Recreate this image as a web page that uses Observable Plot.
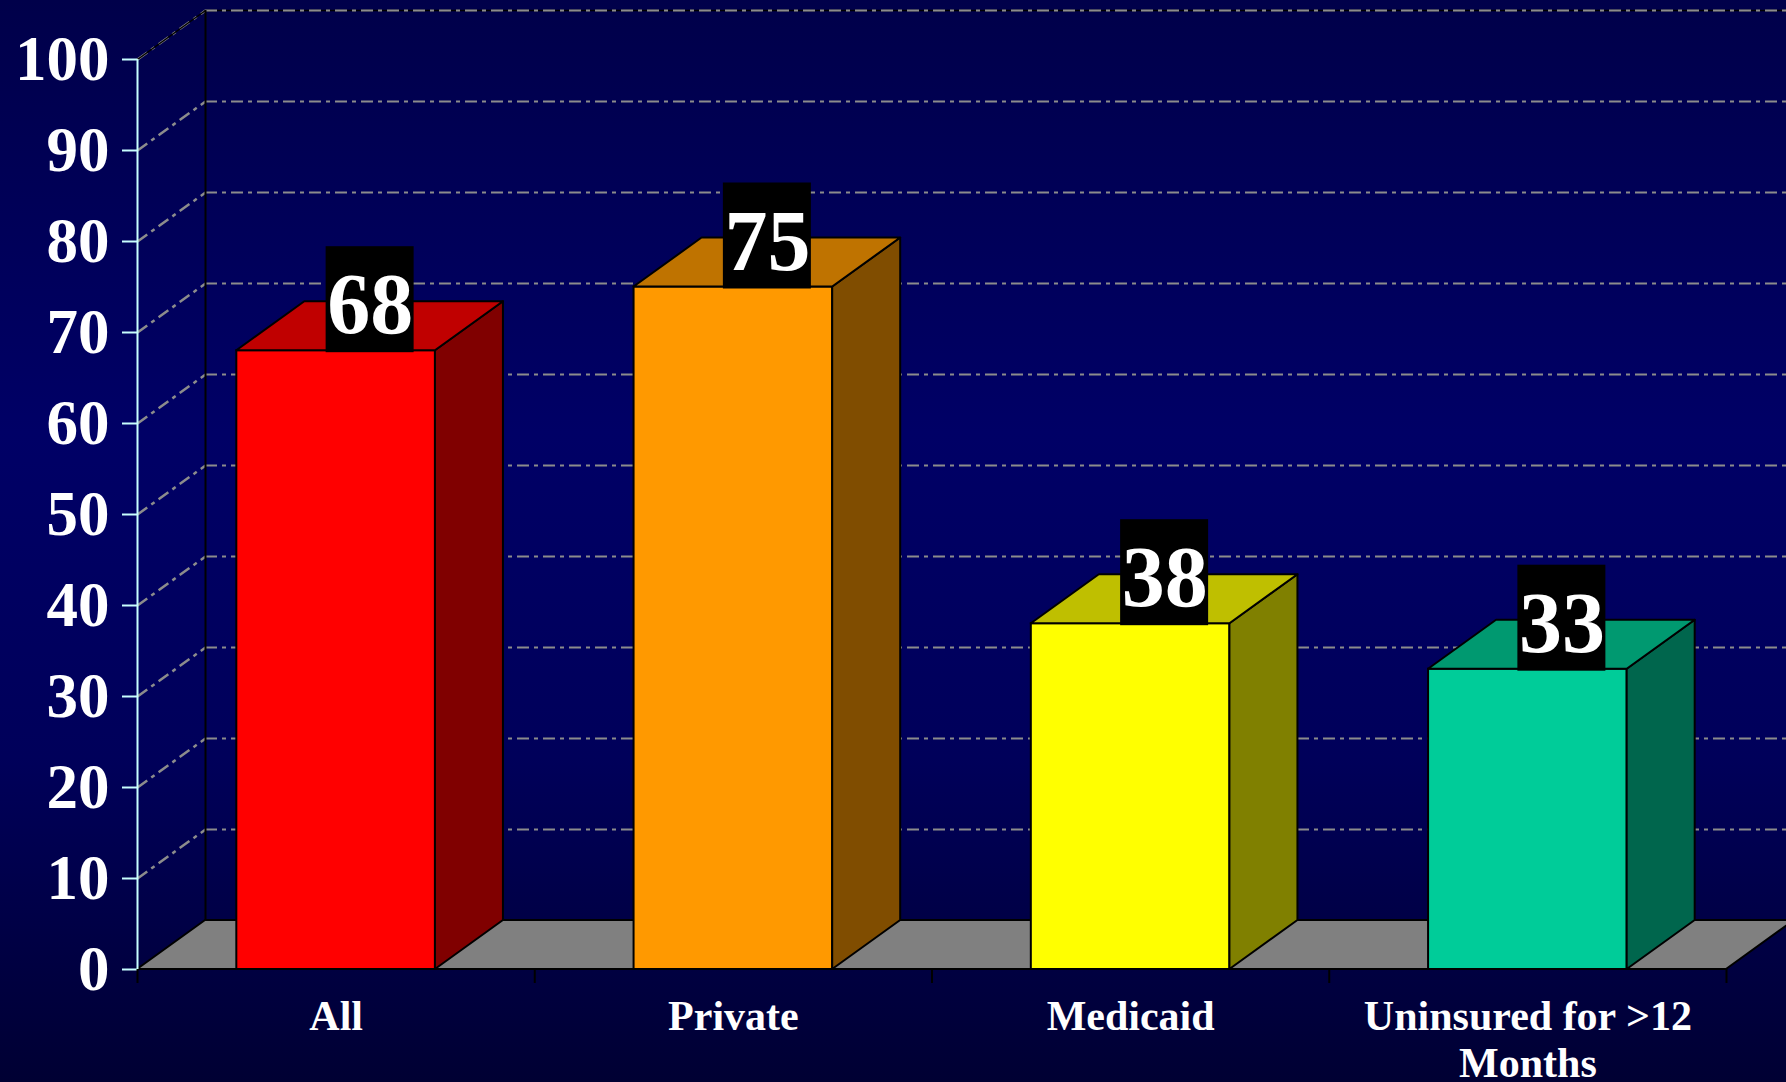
<!DOCTYPE html>
<html>
<head>
<meta charset="utf-8">
<script src="https://cdn.jsdelivr.net/npm/d3@7"></script>
<script src="https://cdn.jsdelivr.net/npm/@observablehq/plot@0.6"></script>
<style>
  html, body { margin: 0; padding: 0; overflow: hidden; background: #000040; }
  #chart svg { display: block; }
</style>
</head>
<body>
<div id="chart"></div>
<script>
// ---- data ----
const categories = ["All", "Private", "Medicaid", "Uninsured for >12\nMonths"];
const values = [68, 75, 38, 33];
const frontColors = ["#ff0000", "#ff9900", "#ffff00", "#00cc99"];
const topColors = ["#c00000", "#bf7300", "#bfbf00", "#009970"];
const sideColors = ["#800000", "#804d00", "#808000", "#00664d"];
const yTicks = [0, 10, 20, 30, 40, 50, 60, 70, 80, 90, 100];

// ---- layout ----
const W = 1786, H = 1082;
const mL = 137, mR = 60, mT = 59, mB = 113;
const depthPx = {x: 68, y: 49};
const kx = categories.length / (W - mL - mR);   // x units per px
const ky = 100 / (H - mT - mB);                 // y units per px
const dX = depthPx.x * kx, dY = depthPx.y * ky;
const n = categories.length;

const bars = values.map((v, i) => ({i, v, l: i + 0.25, r: i + 0.75, c: i + 0.5}));
const sides = bars.flatMap(b => [
  {i: b.i, x: b.r, y1: 0, y2: b.v},
  {i: b.i, x: b.r + dX, y1: dY, y2: b.v + dY}
]);
const tops = bars.flatMap(b => [
  {i: b.i, y: b.v, x1: b.l, x2: b.r},
  {i: b.i, y: b.v + dY, x1: b.l + dX, x2: b.r + dX}
]);
const floor = [{y: 0, x1: 0, x2: n}, {y: dY, x1: dX, x2: n + dX}];
const grid = yTicks.slice(1);
const dash = "12,5,4,5";
const serif = "'Liberation Serif', 'Times New Roman', serif";
const boxW = 88 * kx, boxH = 106 * ky;

const chart = Plot.plot({
  width: W, height: H,
  marginLeft: mL, marginRight: mR, marginTop: mT, marginBottom: mB,
  style: {background: "linear-gradient(to bottom, #00004a 0%, #000066 40%, #00005a 70%, #000033 100%)", fontFamily: serif},
  x: {type: "linear", domain: [0, n], axis: null},
  y: {domain: [0, 100], axis: null},
  marks: [
    // back wall gridlines
    Plot.ruleY(grid, {y: d => d + dY, x1: dX, x2: n + dX, stroke: "#8c8c8c", strokeWidth: 2, strokeDasharray: dash}),
    // left wall diagonals
    Plot.link(grid, {x1: 0, y1: d => d, x2: dX, y2: d => d + dY, stroke: "#8c8c8c", strokeWidth: 2.5, strokeDasharray: dash}),
    // back wall top edge and left edge
    Plot.ruleY([100 + dY], {x1: dX, x2: n + dX, stroke: "black", strokeWidth: 1.5}),
    Plot.link([100], {x1: 0, y1: d => d, x2: dX, y2: d => d + dY, stroke: "black", strokeWidth: 1.5}),
    Plot.ruleY([100 + dY], {x1: dX, x2: n + dX, stroke: "#8c8c8c", strokeWidth: 1.5, strokeDasharray: dash}),
    Plot.ruleX([dX], {y1: dY, y2: 100 + dY, stroke: "black", strokeWidth: 2}),
    // floor
    Plot.areaX(floor, {y: "y", x1: "x1", x2: "x2", fill: "#808080", stroke: "black", strokeWidth: 2}),
    // front y axis
    Plot.ruleX([0], {y1: 0, y2: 100, stroke: "#c8ffff", strokeWidth: 2}),
    Plot.axisY({ticks: yTicks, anchor: "left", tickSize: 15, tickPadding: 13, stroke: "#c8ffff", strokeWidth: 2,
      fill: "white", fontSize: 63, fontWeight: "bold", fontFamily: serif, tickFormat: d => String(d)}),
    // category ticks
    Plot.ruleX(d3.range(n + 1), {y1: 0, y2: -14 * ky, stroke: "black", strokeWidth: 2}),
    // bars
    Plot.rect(bars, {x1: "l", x2: "r", y1: 0, y2: "v", fill: d => frontColors[d.i], stroke: "black", strokeWidth: 2}),
    Plot.areaY(sides, {x: "x", y1: "y1", y2: "y2", z: "i", fill: d => sideColors[d.i], stroke: "black", strokeWidth: 2}),
    Plot.areaX(tops, {y: "y", x1: "x1", x2: "x2", z: "i", fill: d => topColors[d.i], stroke: "black", strokeWidth: 2}),
    // value labels
    Plot.rect(bars, {x1: d => d.c + dX / 2 - boxW / 2, x2: d => d.c + dX / 2 + boxW / 2,
      y1: d => d.v - 2 * ky, y2: d => d.v - 2 * ky + boxH, fill: "black"}),
    Plot.text(bars, {x: d => d.c + dX / 2, y: "v", text: d => String(d.v), dy: -45,
      fill: "white", fontSize: 86, fontWeight: "bold", fontFamily: serif, lineAnchor: "middle"}),
    // category labels
    Plot.text(bars, {x: "c", y: 0, text: d => categories[d.i], dy: 27, lineAnchor: "top", lineHeight: 1.12,
      fill: "white", fontSize: 42, fontWeight: "bold", fontFamily: serif, style: "letter-spacing:1.5px"})
  ]
});
document.getElementById("chart").appendChild(chart);
</script>
</body>
</html>
